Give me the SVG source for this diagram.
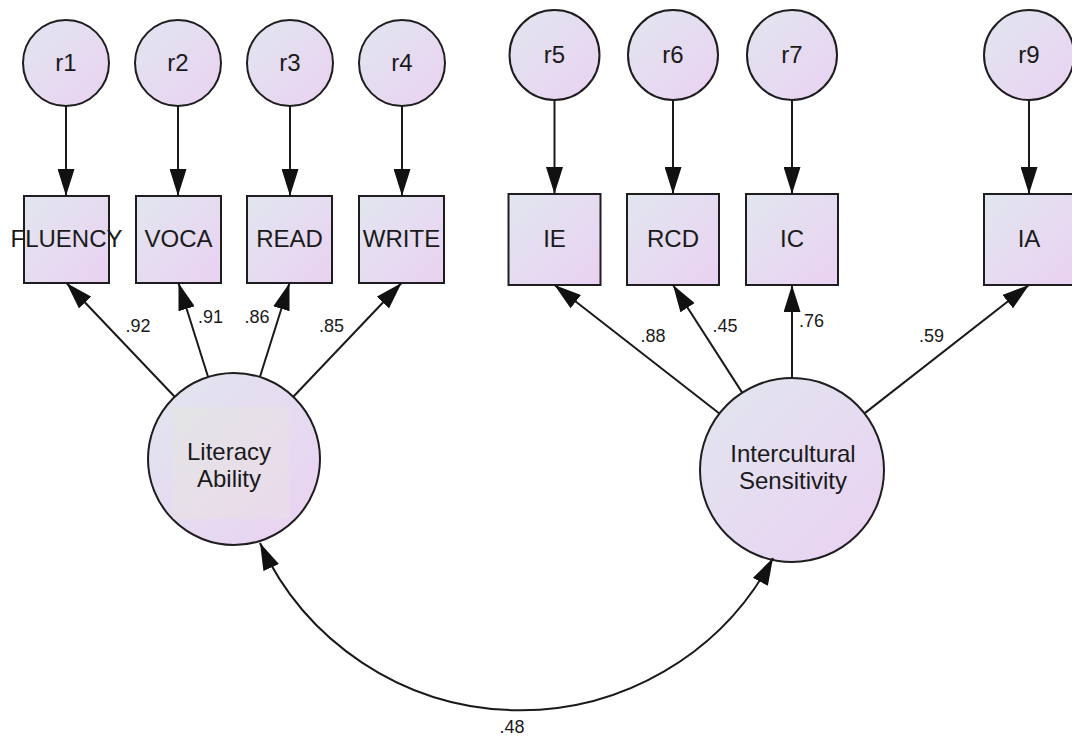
<svg xmlns="http://www.w3.org/2000/svg" width="1072" height="738" viewBox="0 0 1072 738">
<defs>
<linearGradient id="fillg" x1="0" y1="0" x2="1" y2="1">
<stop offset="0" stop-color="#e1e6ef"/>
<stop offset="1" stop-color="#ead1f2"/>
</linearGradient>
<linearGradient id="patch" x1="0" y1="0" x2="1" y2="1">
<stop offset="0" stop-color="#e3e5e4"/>
<stop offset="1" stop-color="#ebdbe9"/>
</linearGradient>
<marker id="arr" viewBox="0 0 27 17" markerWidth="27" markerHeight="17" refX="27" refY="8.5" markerUnits="userSpaceOnUse" orient="auto-start-reverse">
<path d="M0,0 L27,8.5 L0,17 z" fill="#111"/>
</marker>
<style>
.shape{fill:url(#fillg);stroke:#1e1e1e;stroke-width:2}
.lbl{font-family:"Liberation Sans",Arial,sans-serif;font-size:24px;fill:#1a1a1a;text-anchor:middle}
.coef{font-family:"Liberation Sans",Arial,sans-serif;font-size:18px;fill:#1a1a1a;text-anchor:middle}
.con{fill:none;stroke:#1a1a1a;stroke-width:2;marker-end:url(#arr)}
</style>
</defs>
<rect width="1072" height="738" fill="#fff"/>

<g id="r1"><circle class="shape" cx="66" cy="63" r="43"/><text class="lbl" x="66" y="71">r1</text></g>
<g id="r2"><circle class="shape" cx="178" cy="63" r="43"/><text class="lbl" x="178" y="71">r2</text></g>
<g id="r3"><circle class="shape" cx="290" cy="63" r="43"/><text class="lbl" x="290" y="71">r3</text></g>
<g id="r4"><circle class="shape" cx="402" cy="63" r="43"/><text class="lbl" x="402" y="71">r4</text></g>
<g id="r5"><circle class="shape" cx="554.5" cy="55" r="45"/><text class="lbl" x="554.5" y="63">r5</text></g>
<g id="r6"><circle class="shape" cx="673" cy="55" r="45"/><text class="lbl" x="673" y="63">r6</text></g>
<g id="r7"><circle class="shape" cx="792" cy="55" r="45"/><text class="lbl" x="792" y="63">r7</text></g>
<g id="r9"><circle class="shape" cx="1029" cy="55" r="45"/><text class="lbl" x="1029" y="63">r9</text></g>

<g id="FLUENCY"><rect class="shape" x="24" y="196" width="85" height="87"/><text class="lbl" x="66.5" y="247">FLUENCY</text></g>
<g id="VOCA"><rect class="shape" x="136" y="196" width="85" height="87"/><text class="lbl" x="178.5" y="247">VOCA</text></g>
<g id="READ"><rect class="shape" x="247" y="196" width="85" height="87"/><text class="lbl" x="289.5" y="247">READ</text></g>
<g id="WRITE"><rect class="shape" x="359" y="196" width="85" height="87"/><text class="lbl" x="401.5" y="247">WRITE</text></g>
<g id="IE"><rect class="shape" x="508.5" y="194" width="92" height="91"/><text class="lbl" x="554.5" y="247">IE</text></g>
<g id="RCD"><rect class="shape" x="627" y="194" width="92" height="91"/><text class="lbl" x="673" y="247">RCD</text></g>
<g id="IC"><rect class="shape" x="746" y="194" width="92" height="91"/><text class="lbl" x="792" y="247">IC</text></g>
<g id="IA"><rect class="shape" x="984" y="194" width="92" height="91"/><text class="lbl" x="1029" y="247">IA</text></g>

<g id="LiteracyAbility">
<circle class="shape" cx="234" cy="459" r="86"/>
<rect x="173" y="407" width="116" height="112" fill="url(#patch)" opacity="0.8"/>
<text class="lbl" x="229" y="460">Literacy</text>
<text class="lbl" x="229" y="487">Ability</text>
</g>
<g id="InterculturalSensitivity">
<circle class="shape" cx="792" cy="470" r="92"/>
<text class="lbl" x="793" y="462">Intercultural</text>
<text class="lbl" x="793" y="489">Sensitivity</text>
</g>

<g id="connectors">
<path class="con" d="M66,106 L66,196"/>
<path class="con" d="M178,106 L178,196"/>
<path class="con" d="M290,106 L290,196"/>
<path class="con" d="M402,106 L402,196"/>
<path class="con" d="M554.5,100 L554.5,194"/>
<path class="con" d="M673,100 L673,194"/>
<path class="con" d="M792,100 L792,194"/>
<path class="con" d="M1029,100 L1029,194"/>
<path class="con" d="M174.7,396.7 L66.5,283"/>
<path class="con" d="M208.1,377 L178.5,283"/>
<path class="con" d="M259.9,377 L289.5,283"/>
<path class="con" d="M293.3,396.7 L401.5,283"/>
<path class="con" d="M719.4,413.5 L554.5,285"/>
<path class="con" d="M742.2,392.6 L673,285"/>
<path class="con" d="M792,378 L792,285"/>
<path class="con" d="M864.5,413.4 L1029,285"/>
<path class="con" d="M260,543 A286,286 0 0 0 773,558" style="marker-start:url(#arr)"/>
</g>

<g id="coefficients">
<text class="coef" x="138" y="332">.92</text>
<text class="coef" x="210.5" y="323">.91</text>
<text class="coef" x="257" y="323">.86</text>
<text class="coef" x="331.5" y="332">.85</text>
<text class="coef" x="653" y="342">.88</text>
<text class="coef" x="725" y="332">.45</text>
<text class="coef" x="811.5" y="327">.76</text>
<text class="coef" x="931.5" y="342">.59</text>
<text class="coef" x="512" y="733">.48</text>
</g>
</svg>
